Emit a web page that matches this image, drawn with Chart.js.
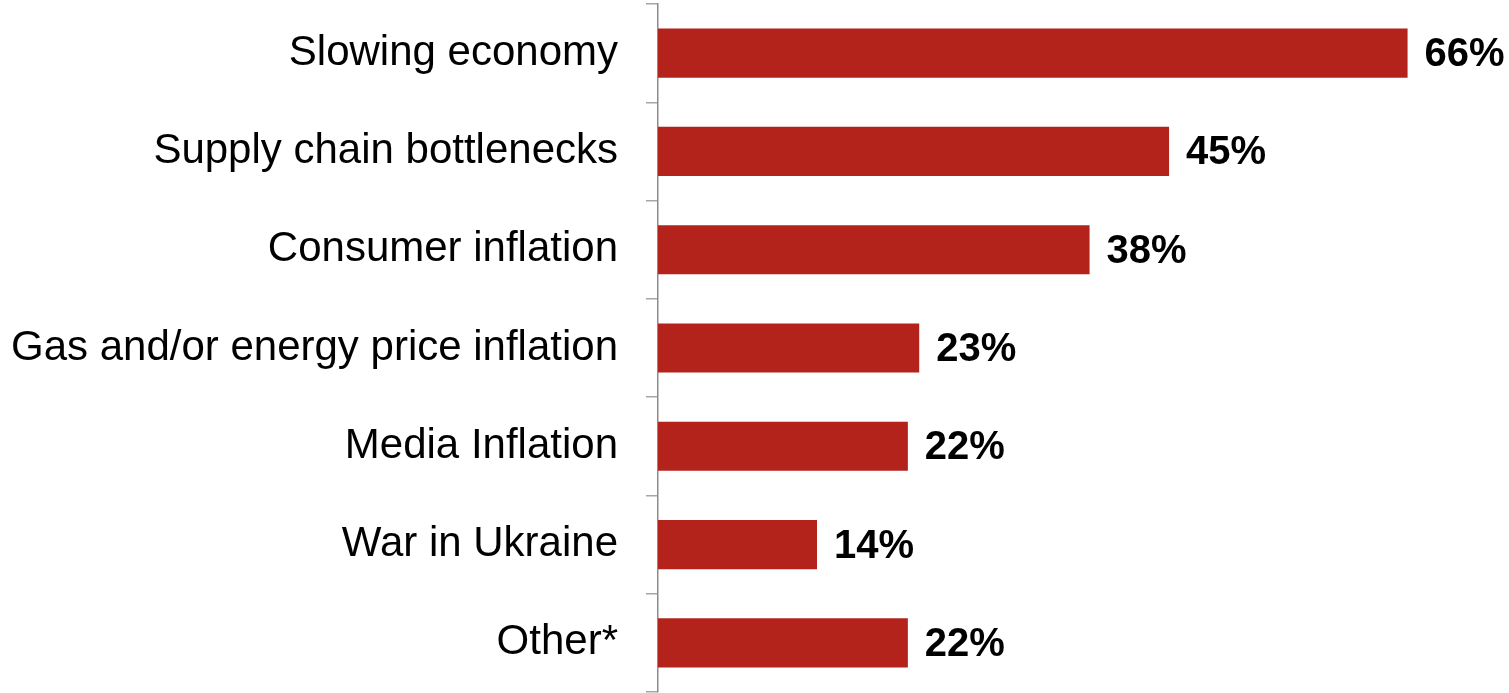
<!DOCTYPE html>
<html>
<head>
<meta charset="utf-8">
<script src="https://cdn.jsdelivr.net/npm/chart.js@4/dist/chart.umd.min.js"></script>
<style>
  html, body { margin: 0; padding: 0; background: #ffffff; }
  #wrap { width: 1509px; height: 693px; position: relative; }
</style>
</head>
<body>
<div id="wrap"><canvas id="bar-chart"></canvas></div>
<script>
'use strict';

var CATEGORIES = [
  'Slowing economy',
  'Supply chain bottlenecks',
  'Consumer inflation',
  'Gas and/or energy price inflation',
  'Media Inflation',
  'War in Ukraine',
  'Other*',
];
var VALUES = [66, 45, 38, 23, 22, 14, 22];

var BAR_COLOR = '#b3231c';

// value labels drawn just past the end of each bar
var valueLabels = {
  id: 'valueLabels',
  afterDatasetsDraw: function(chart) {
    var ctx  = chart.ctx;
    var meta = chart.getDatasetMeta(0);
    ctx.save();
    ctx.fillStyle    = '#000000';
    ctx.font         = 'bold 40px "Liberation Sans", Arial, sans-serif';
    ctx.textAlign    = 'left';
    ctx.textBaseline = 'middle';
    meta.data.forEach(function(bar, i) {
      ctx.fillText(VALUES[i] + '%', bar.x + 17, bar.y + 2);
    });
    ctx.restore();
  },
};

var ctx = document.getElementById('bar-chart').getContext('2d');

var _chart = new Chart(ctx, {
  type: 'bar',
  data: {
    labels:   CATEGORIES,
    datasets: [{
      data:               VALUES,
      backgroundColor:    BAR_COLOR,
      borderWidth:        0,
      barPercentage:      0.5,
      categoryPercentage: 1.0,
    }],
  },
  plugins: [valueLabels],
  options: {
    indexAxis:  'y',
    responsive: true,
    maintainAspectRatio: false,
    animation:  false,
    layout: { padding: { top: 4, bottom: 1, left: 0, right: 56 } },
    plugins: {
      legend:  { display: false },
      tooltip: { enabled: false },
    },
    scales: {
      x: {
        display: false,
        min: 0,
        max: 70,
      },
      y: {
        grid: {
          drawOnChartArea: false,
          drawTicks:       true,
          tickLength:      12,
          color:           '#a6a6a6',
          lineWidth:       1.5,
          offset:          true,
        },
        border: { color: '#8c8c8c', width: 1.5 },
        ticks: {
          color:   '#000000',
          padding: 28,
          font:    { family: '"Liberation Sans", Arial, sans-serif', size: 42 },
        },
        afterFit: function(scale) {
          scale.width         = 658;
          scale.paddingTop    = 0;
          scale.paddingBottom = 0;
        },
      },
    },
  },
});
</script>
</body>
</html>
